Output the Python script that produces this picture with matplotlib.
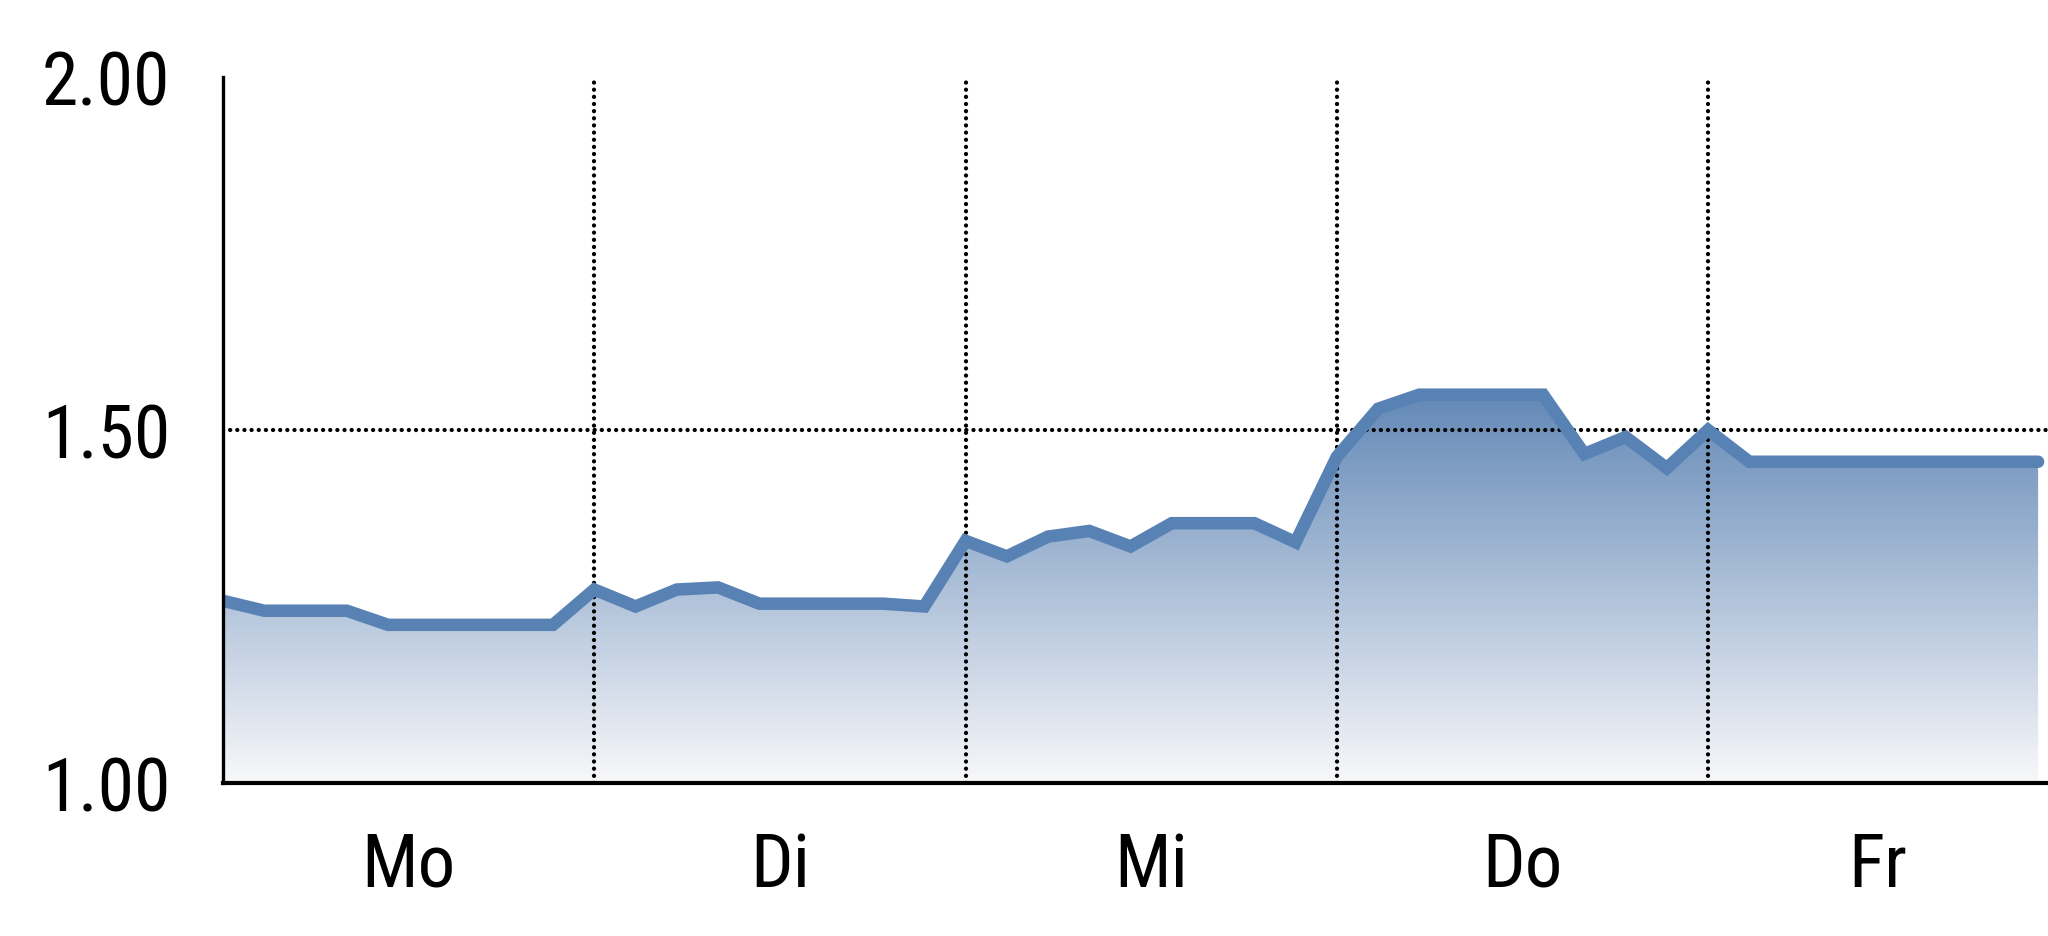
import numpy as np
import matplotlib.pyplot as plt
import matplotlib.transforms as mtransforms
from matplotlib.colors import LinearSegmentedColormap

# ---- data (9 readings per weekday, Friday cut short) ----
days = ["Mo", "Di", "Mi", "Do", "Fr"]
mo = [1.258, 1.244, 1.244, 1.244, 1.224, 1.224, 1.224, 1.224, 1.224]
di = [1.274, 1.250, 1.274, 1.277, 1.254, 1.254, 1.254, 1.254, 1.250]
mi = [1.343, 1.321, 1.349, 1.357, 1.335, 1.368, 1.368, 1.368, 1.341]
do = [1.462, 1.530, 1.550, 1.550, 1.550, 1.550, 1.466, 1.490, 1.446]
fr = [1.500, 1.455, 1.455, 1.455, 1.455, 1.455, 1.455, 1.455, 1.455]
y_ticks = [1.00, 1.50, 2.00]
ref_level = 1.50

values = np.array(mo + di + mi + do + fr)
x = np.arange(len(values))
per_day = 9
x_max = 44.24

LINE = "#5882b4"
FONT = ["Roboto Condensed", "Liberation Sans", "DejaVu Sans"]

fig = plt.figure(figsize=(20.48, 9.37), dpi=100)
ax = fig.add_axes([0.1089, 0.1633, 0.8911, 0.7535])
ax.set_xlim(0, x_max)
ax.set_ylim(1.0, 2.0)

# gradient fill under the line
cmap = LinearSegmentedColormap.from_list("g", ["#f8f8fa", "#6389b7"])
grad = np.linspace(0, 1, 256).reshape(-1, 1)
poly = ax.fill_between(x, 1.0, values, color="none", lw=0)
img = ax.imshow(grad, cmap=cmap, origin="lower", aspect="auto",
                extent=[0, x[-1], 1.0, values.max()], zorder=1)
img.set_clip_path(poly.get_paths()[0], transform=ax.transData)

# dotted grid
dot = dict(color="black", lw=3.1, linestyle=(0, (0.01, 1.65)),
           dash_capstyle="round", zorder=3)
for b in range(1, len(days)):
    ax.plot([b * per_day, b * per_day], [1.0, 2.0], **dot)
ax.plot([0, x_max], [ref_level, ref_level], **dot)

ax.plot(x, values, color=LINE, lw=9.0, solid_joinstyle="miter",
        solid_capstyle="round", zorder=4)

# axes styling
for s in ["top", "right"]:
    ax.spines[s].set_visible(False)
ax.spines["left"].set_linewidth(2.4)
ax.spines["bottom"].set_linewidth(3.0)
ax.spines["left"].set_zorder(5)
ax.spines["bottom"].set_zorder(5)

ax.set_yticks(y_ticks)
ax.set_yticklabels([f"{v:.2f}" for v in y_ticks], fontsize=53, family=FONT)
ax.tick_params(axis="y", length=0, pad=38)
ax.set_xticks([])

trans = mtransforms.blended_transform_factory(ax.transData, ax.transAxes)
for i, d in enumerate(days):
    start = i * per_day
    end = min((i + 1) * per_day, x_max)
    ax.text((start + end) / 2, -0.1459, d, transform=trans, ha="center",
            va="baseline", fontsize=54, family=FONT)

fig.savefig("out.png", dpi=100)
